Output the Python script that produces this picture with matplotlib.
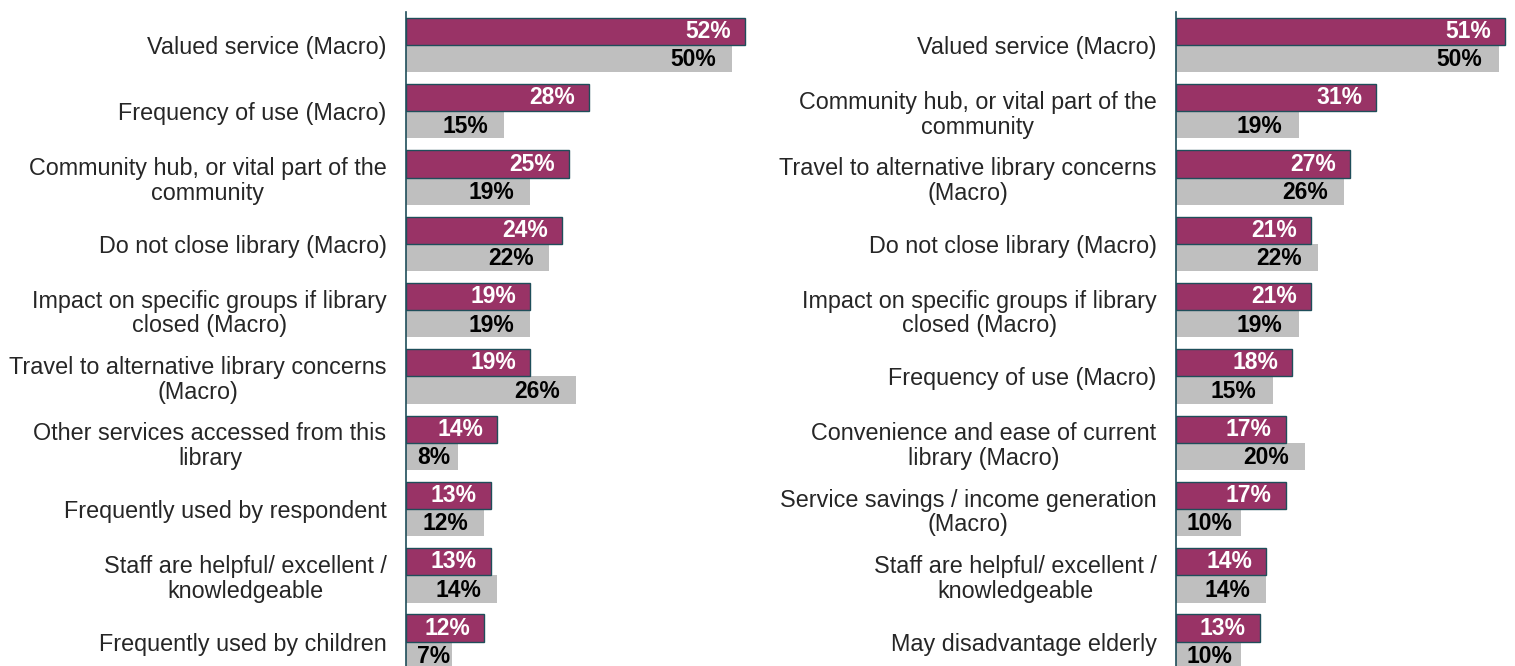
import matplotlib
matplotlib.use("Agg")
import matplotlib.pyplot as plt

plt.rcParams['font.family'] = ['Liberation Sans', 'DejaVu Sans']

left_categories = [
    "Valued service (Macro)",
    "Frequency of use (Macro)",
    "Community hub, or vital part of the\ncommunity",
    "Do not close library (Macro)",
    "Impact on specific groups if library\nclosed (Macro)",
    "Travel to alternative library concerns\n(Macro)",
    "Other services accessed from this\nlibrary",
    "Frequently used by respondent",
    "Staff are helpful/ excellent /\nknowledgeable",
    "Frequently used by children",
]
left_purple = [52, 28, 25, 24, 19, 19, 14, 13, 13, 12]
left_gray = [50, 15, 19, 22, 19, 26, 8, 12, 14, 7]

right_categories = [
    "Valued service (Macro)",
    "Community hub, or vital part of the\ncommunity",
    "Travel to alternative library concerns\n(Macro)",
    "Do not close library (Macro)",
    "Impact on specific groups if library\nclosed (Macro)",
    "Frequency of use (Macro)",
    "Convenience and ease of current\nlibrary (Macro)",
    "Service savings / income generation\n(Macro)",
    "Staff are helpful/ excellent /\nknowledgeable",
    "May disadvantage elderly",
]
right_purple = [51, 31, 27, 21, 21, 18, 17, 17, 14, 13]
right_gray = [50, 19, 26, 22, 19, 15, 20, 10, 14, 10]

W, H = 1515, 666
fig = plt.figure(figsize=(W / 100, H / 100), dpi=100)

PURPLE = "#993366"
GRAY = "#BFBFBF"
EDGE = "#1F4E5A"
TXT = "#262626"

value_texts = []  # (ax, text, bar_end_value, pad_px)


def panel(x0_px, px_per_unit, width_px, cats, pv, gv):
    ax = fig.add_axes([x0_px / W, 0, width_px / W, 654 / H])
    n = len(cats)
    ys = list(range(n))
    h = 0.41
    ax.barh([y - h / 2 for y in ys], pv, height=h, color=PURPLE,
            edgecolor=EDGE, linewidth=1.0, zorder=2)
    ax.barh([y + h / 2 for y in ys], gv, height=h, color=GRAY,
            edgecolor="none", zorder=1)
    ax.set_xlim(0, width_px / px_per_unit)
    ax.set_ylim(n - 1 + 0.367, -0.498)
    for y, v in zip(ys, pv):
        t = ax.text(v, y - h / 2, f"{v}%", ha="right", va="center",
                    color="white", fontsize=16.5, fontweight="bold", zorder=3)
        value_texts.append((ax, t, v, 14))
    for y, v in zip(ys, gv):
        t = ax.text(v, y + h / 2 + 0.02, f"{v}%", ha="right", va="center",
                    color="black", fontsize=16.5, fontweight="bold", zorder=3)
        value_texts.append((ax, t, v, 16))
    ax.set_yticks(ys)
    ax.set_yticklabels(cats, fontsize=16.8, color=TXT)
    for lbl in ax.get_yticklabels():
        lbl.set_multialignment("center")
        lbl.set_linespacing(1.1)
    ax.tick_params(axis="y", length=0, pad=14)
    ax.set_xticks([])
    for s in ["top", "right", "bottom"]:
        ax.spines[s].set_visible(False)
    ax.spines["left"].set_color(EDGE)
    ax.spines["left"].set_linewidth(1.2)
    ax.set_facecolor("none")
    return ax


panel(406, 6.52, 60 * 6.52, left_categories, left_purple, left_gray)
panel(1176, 6.45, 338, right_categories, right_purple, right_gray)

# position value labels: inside end, but keep a left margin from the axis
fig.canvas.draw()
renderer = fig.canvas.get_renderer()
for ax, t, v, pad in value_texts:
    tw = t.get_window_extent(renderer).width
    end_px = ax.transData.transform((v, 0))[0]
    axis_px = ax.transData.transform((0, 0))[0]
    right_px = max(end_px - pad, axis_px + 11 + tw)
    xr = ax.transData.inverted().transform((right_px, 0))[0]
    t.set_x(xr)

fig.savefig("out.png", dpi=100, facecolor="white")
